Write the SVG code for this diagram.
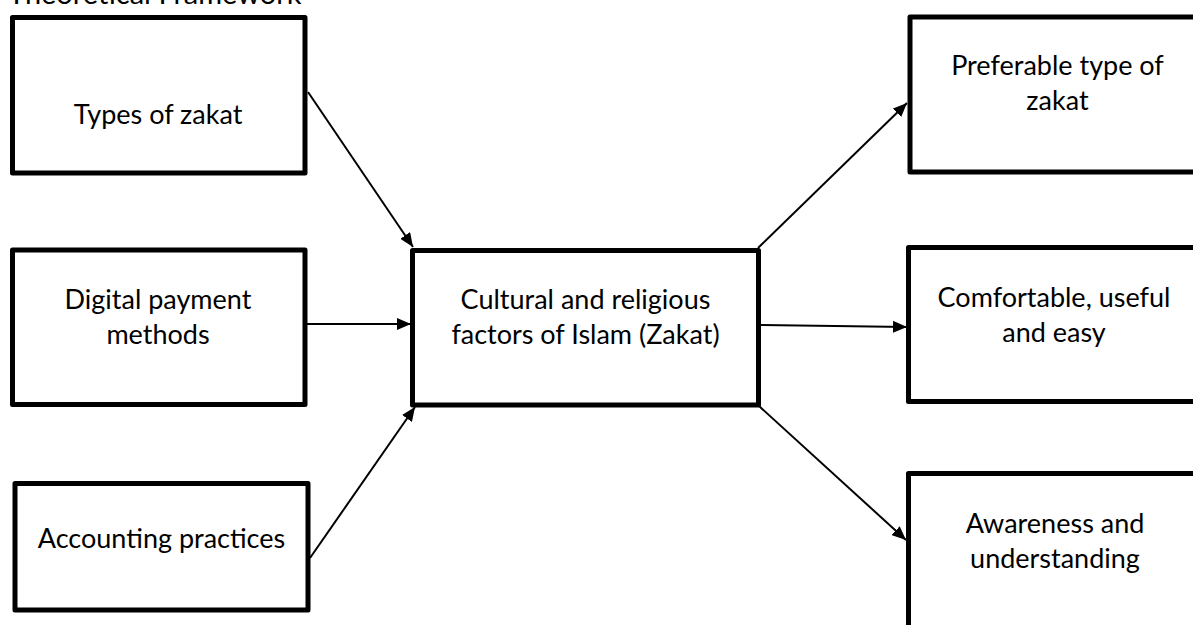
<svg xmlns="http://www.w3.org/2000/svg" width="1193" height="625" viewBox="0 0 1193 625">
<style>
.box{fill:#fff;stroke:#000;stroke-width:5;stroke-linejoin:round}
.t{font-family:Lato,"Open Sans",sans-serif;font-size:27px;fill:#000;text-anchor:middle}
.c{stroke:#000;stroke-width:2;fill:none;marker-end:url(#ah)}
</style>
<defs>
<marker id="ah" viewBox="0 0 14 12" refX="14" refY="6" markerWidth="14" markerHeight="12" markerUnits="userSpaceOnUse" orient="auto">
<path d="M0,0 L14,6 L0,12 Z" fill="#000"/>
</marker>
</defs>
<rect width="1193" height="625" fill="#fff"/>
<text x="8" y="4" font-family="Lato,sans-serif" font-size="29" fill="#000">Theoretical Framework</text>
<g id="types"><rect class="box" x="12.5" y="17.5" width="292.5" height="155.5"/><text class="t" x="158" y="124">Types of zakat</text></g>
<g id="digital"><rect class="box" x="12.5" y="250" width="292.5" height="154.5"/><text class="t" x="158" y="309">Digital payment</text><text class="t" x="158" y="344">methods</text></g>
<g id="accounting"><rect class="box" x="15" y="483.5" width="293" height="126.5"/><text class="t" x="161.5" y="548">Accounting practices</text></g>
<g id="central"><rect class="box" x="412.5" y="250.5" width="346" height="154.5"/><text class="t" x="585.5" y="309">Cultural and religious</text><text class="t" x="585.5" y="344">factors of Islam (Zakat)</text></g>
<g id="preferable"><rect class="box" x="910" y="17" width="300" height="155"/><text class="t" x="1057.5" y="75">Preferable type of</text><text class="t" x="1057.5" y="110">zakat</text></g>
<g id="comfortable"><rect class="box" x="908.5" y="247.5" width="300" height="154"/><text class="t" x="1054" y="307">Comfortable, useful</text><text class="t" x="1054" y="342">and easy</text></g>
<g id="awareness"><rect class="box" x="908.5" y="473.5" width="300" height="200"/><text class="t" x="1055" y="533">Awareness and</text><text class="t" x="1055" y="568">understanding</text></g>
<g id="connectors">
<line class="c" x1="308" y1="92" x2="413" y2="247"/>
<line class="c" x1="307" y1="324" x2="411" y2="324"/>
<line class="c" x1="310" y1="558" x2="415" y2="407"/>
<line class="c" x1="758" y1="248" x2="907" y2="103"/>
<line class="c" x1="761" y1="325" x2="907" y2="327"/>
<line class="c" x1="759" y1="406" x2="906" y2="540"/>
</g>
</svg>
